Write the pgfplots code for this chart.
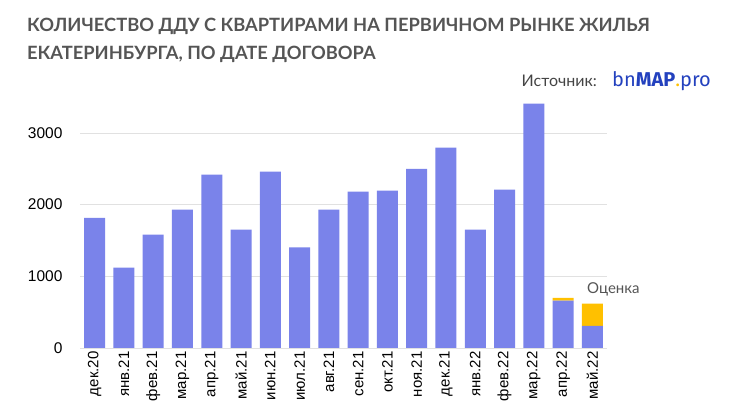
\documentclass[border=0pt]{standalone}
\usepackage{pgfplots}
\pgfplotsset{compat=1.18}
\usepackage{fontspec}
\setmainfont{Liberation Sans}
\newfontfamily\titlefont{Lato}
\newfontfamily\logofont{Fira Sans}
\definecolor{barblue}{RGB}{122,131,234}
\definecolor{barorange}{RGB}{255,192,0}
\definecolor{titlegray}{RGB}{85,85,85}
\definecolor{gridgray}{RGB}{225,225,225}
\definecolor{logoblue}{RGB}{35,65,190}
\begin{document}
\begin{tikzpicture}
\path[use as bounding box] (0bp,0bp) rectangle (732bp,412bp);
\node[anchor=base west, inner sep=0pt, text=titlegray, font=\titlefont\bfseries\fontsize{18.3bp}{18.3bp}\selectfont] at (27bp,380bp) {КОЛИЧЕСТВО ДДУ С КВАРТИРАМИ НА ПЕРВИЧНОМ РЫНКЕ ЖИЛЬЯ};
\node[anchor=base west, inner sep=0pt, text=titlegray, font=\titlefont\bfseries\fontsize{18.3bp}{18.3bp}\selectfont] at (27bp,352bp) {ЕКАТЕРИНБУРГА, ПО ДАТЕ ДОГОВОРА};
\node[anchor=base east, inner sep=0pt, text=titlegray!80!black, font=\titlefont\fontsize{16bp}{16bp}\selectfont] at (597bp,325bp) {Источник:};
\node[anchor=base west, inner sep=0pt, text=logoblue, font=\logofont\fontsize{20bp}{20bp}\selectfont] at (612bp,325bp) {bn\textbf{MAP}{\color{barorange}.}pro};
\node[anchor=west, inner sep=0pt, text=titlegray, font=\titlefont\fontsize{15bp}{15bp}\selectfont] at (587bp,123bp) {Оценка};
\begin{axis}[
  at={(80bp,64bp)}, anchor=south west, scale only axis,
  width=527bp, height=247.3bp,
  ybar stacked, bar width=21bp,
  xmin=-0.5, xmax=17.5, ymin=0, ymax=3450,
  xtick={0,...,17},
  xticklabels={дек.20,янв.21,фев.21,мар.21,апр.21,май.21,июн.21,июл.21,авг.21,сен.21,окт.21,ноя.21,дек.21,янв.22,фев.22,мар.22,апр.22,май.22},
  ytick={0,1000,2000,3000},
  ymajorgrids, grid style={gridgray, line width=0.8bp},
  axis line style={draw=none}, major tick length=0pt,
  /pgf/number format/assume math mode=true,
  /pgf/number format/set thousands separator={},
  scaled y ticks=false,
  xticklabel style={rotate=90, anchor=east, font=\fontsize{15bp}{15bp}\selectfont, text=black, xshift=0bp},
  yticklabel style={font=\fontsize{15.5bp}{15.5bp}\selectfont, text=black, xshift=-14bp},
]
\addplot[fill=barblue, draw=none] coordinates {
(0,1815) (1,1120) (2,1580) (3,1930) (4,2420) (5,1650) (6,2460) (7,1405) (8,1930)
(9,2180) (10,2195) (11,2500) (12,2795) (13,1650) (14,2210) (15,3410) (16,660) (17,310)};
\addplot[fill=barorange, draw=none] coordinates {
(0,0) (1,0) (2,0) (3,0) (4,0) (5,0) (6,0) (7,0) (8,0)
(9,0) (10,0) (11,0) (12,0) (13,0) (14,0) (15,0) (16,40) (17,310)};
\end{axis}
\end{tikzpicture}
\end{document}
